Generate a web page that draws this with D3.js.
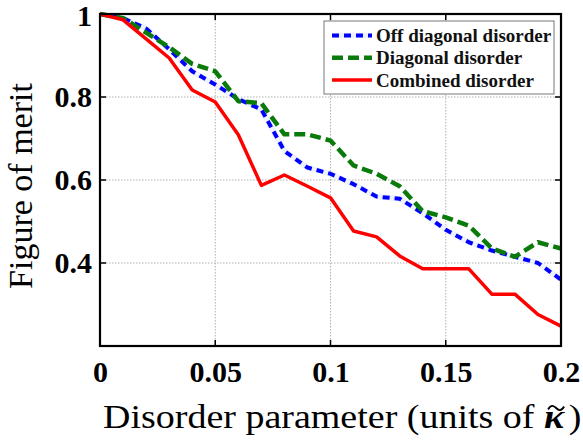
<!DOCTYPE html>
<html>
<head>
<meta charset="utf-8">
<script src="https://cdn.jsdelivr.net/npm/d3@7"></script>
<style>
  html, body { margin: 0; padding: 0; background: #fff; }
  svg { display: block; }
</style>
</head>
<body>
<svg id="chart" width="583" height="448"></svg>
<script>
const disorder = [0, 0.01, 0.02, 0.03, 0.04, 0.05, 0.06, 0.07, 0.08, 0.09, 0.10,
                  0.11, 0.12, 0.13, 0.14, 0.15, 0.16, 0.17, 0.18, 0.19, 0.20];
const offDiagonal = [1.0, 0.99, 0.965, 0.915, 0.862, 0.83, 0.795, 0.77, 0.67, 0.63, 0.615,
                     0.59, 0.56, 0.555, 0.52, 0.48, 0.45, 0.43, 0.415, 0.40, 0.36];
const diagonal = [1.0, 0.99, 0.955, 0.92, 0.88, 0.862, 0.79, 0.785, 0.71, 0.71, 0.695,
                  0.635, 0.615, 0.585, 0.525, 0.51, 0.49, 0.435, 0.415, 0.45, 0.435];
const combined = [1.0, 0.986, 0.94, 0.894, 0.817, 0.788, 0.709, 0.587, 0.612, 0.585, 0.557,
                  0.477, 0.463, 0.417, 0.386, 0.386, 0.386, 0.325, 0.325, 0.276, 0.248];
const xTicks = [0, 0.05, 0.1, 0.15, 0.2];
const xTickLabels = ["0", "0.05", "0.1", "0.15", "0.2"];
const yTicks = [0.4, 0.6, 0.8, 1];
const yTickLabels = ["0.4", "0.6", "0.8", "1"];
const seriesNames = ["Off diagonal disorder", "Diagonal disorder", "Combined disorder"];

const SERIF = "'Liberation Serif','Times New Roman',serif";
const svg = d3.select("#chart");
const L = 100, R = 561, T = 14, B = 346;
const x = d3.scaleLinear().domain([0, 0.2]).range([L, R]);
const y = d3.scaleLinear().domain([0.2, 1]).range([B, T]);

// grid
const grid = svg.append("g");
grid.selectAll("line.gx").data(xTicks.slice(1, -1)).enter().append("line")
  .attr("x1", d => x(d)).attr("x2", d => x(d)).attr("y1", T).attr("y2", B)
  .attr("stroke", "#b0b0b0").attr("stroke-width", 1).attr("stroke-dasharray", "1.5,1.5");
grid.selectAll("line.gy").data(yTicks.filter(d => d < 1)).enter().append("line")
  .attr("x1", L).attr("x2", R).attr("y1", d => y(d)).attr("y2", d => y(d))
  .attr("stroke", "#b0b0b0").attr("stroke-width", 1).attr("stroke-dasharray", "1.5,1.5");

const styles = [
  { data: offDiagonal, color: "#0000ff", width: 4, dash: "7,5", under: true },
  { data: diagonal, color: "#0a7a0a", width: 4.5, dash: "11,5", under: false },
  { data: combined, color: "#ff0000", width: 3.5, dash: null, under: false }
];
const line = d3.line().x((d, i) => x(disorder[i])).y(d => y(d));

styles.forEach(s => {
  if (s.under) {
    svg.append("path").attr("d", line(s.data)).attr("fill", "none")
      .attr("stroke", "#eef2ff").attr("stroke-width", s.width + 1.5).attr("stroke-linejoin", "round");
  }
  const p = svg.append("path").attr("d", line(s.data)).attr("fill", "none")
    .attr("stroke", s.color).attr("stroke-width", s.width).attr("stroke-linejoin", "round");
  if (s.dash) p.attr("stroke-dasharray", s.dash);
});

// axes
const tickLen = 6;
const xAxis = d3.axisBottom(x).tickValues(xTicks).tickFormat((d, i) => xTickLabels[i]).tickSize(0).tickPadding(18);
const gx = svg.append("g").attr("transform", `translate(0,${B})`).call(xAxis);
gx.select(".domain").remove();
gx.selectAll("text").attr("font-family", SERIF).attr("font-weight", "bold")
  .attr("font-size", 30).attr("fill", "#000").attr("dy", "0.71em").attr("y", 15);

const yAxis = d3.axisLeft(y).tickValues(yTicks).tickFormat((d, i) => yTickLabels[i]).tickSize(0).tickPadding(8);
const gy = svg.append("g").attr("transform", `translate(${L},0)`).call(yAxis);
gy.select(".domain").remove();
gy.selectAll("text").attr("font-family", SERIF).attr("font-weight", "bold")
  .attr("font-size", 30).attr("fill", "#000");
gy.selectAll(".tick").filter(d => d === 1).select("text").attr("y", 2);

// ticks inward on all sides
const ticks = svg.append("g").attr("stroke", "#000").attr("stroke-width", 1.5);
xTicks.slice(1, -1).forEach(t => {
  ticks.append("line").attr("x1", x(t)).attr("x2", x(t)).attr("y1", B).attr("y2", B - tickLen);
  ticks.append("line").attr("x1", x(t)).attr("x2", x(t)).attr("y1", T).attr("y2", T + tickLen);
});
yTicks.filter(d => d < 1).forEach(t => {
  ticks.append("line").attr("x1", L).attr("x2", L + tickLen).attr("y1", y(t)).attr("y2", y(t));
  ticks.append("line").attr("x1", R).attr("x2", R - tickLen).attr("y1", y(t)).attr("y2", y(t));
});

// box
svg.append("rect").attr("x", L).attr("y", T).attr("width", R - L).attr("height", B - T)
  .attr("fill", "none").attr("stroke", "#000").attr("stroke-width", 2.2);

// legend
const lg = svg.append("g");
lg.append("rect").attr("x", 324).attr("y", 21).attr("width", 230).attr("height", 73)
  .attr("fill", "#fff").attr("stroke", "#777").attr("stroke-width", 1);
styles.forEach((s, i) => {
  const yy = 35.5 + i * 22.3;
  if (s.under) {
    lg.append("line").attr("x1", 332).attr("x2", 372).attr("y1", yy).attr("y2", yy)
      .attr("stroke", "#eef2ff").attr("stroke-width", s.width + 1.5);
  }
  const l = lg.append("line").attr("x1", 332).attr("x2", 372).attr("y1", yy).attr("y2", yy)
    .attr("stroke", s.color).attr("stroke-width", s.width);
  if (s.dash) l.attr("stroke-dasharray", s.dash);
  lg.append("text").attr("x", 376).attr("y", yy).attr("dy", "0.35em")
    .attr("font-family", SERIF).attr("font-weight", "bold").attr("font-size", 19).attr("fill", "#111")
    .text(seriesNames[i]);
});

// axis titles
const xt = svg.append("text").attr("x", 103).attr("y", 428)
  .attr("font-family", SERIF).attr("font-size", 34).attr("fill", "#000");
xt.append("tspan").text("Disorder parameter (units of ");
xt.append("tspan").attr("font-style", "italic").attr("font-weight", "bold").text("κ");
xt.append("tspan").attr("dx", 4).text(")");
const wNat = xt.node().getComputedTextLength();
const sx = 474 / wNat;
xt.attr("transform", `translate(103,0) scale(${sx},1) translate(-103,0)`);
// tilde accent above kappa (drawn as a path)
const nChars = "Disorder parameter (units of ".length;
const kStart = xt.node().getStartPositionOfChar(nChars);
const kEnd = xt.node().getEndPositionOfChar(nChars);
const kMid = 103 + ((kStart.x + kEnd.x) / 2 - 103) * sx + 2;
const ty = 408;
svg.append("path")
  .attr("d", `M${kMid - 8},${ty + 1.5} C${kMid - 5},${ty - 4} ${kMid - 2},${ty - 2} ${kMid},${ty} S${kMid + 5},${ty + 4} ${kMid + 8},${ty - 1.5}`)
  .attr("fill", "none").attr("stroke", "#000").attr("stroke-width", 1.8);

svg.append("text").attr("transform", "translate(32,186) rotate(-90)").attr("text-anchor", "middle")
  .attr("font-family", SERIF).attr("font-size", 34).attr("fill", "#000")
  .text("Figure of merit");
</script>
</body>
</html>
